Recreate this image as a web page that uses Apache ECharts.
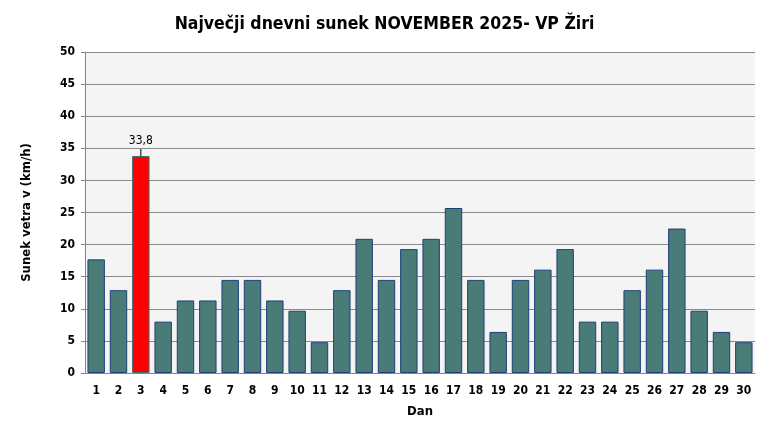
<!DOCTYPE html>
<html><head><meta charset="utf-8">
<script src="https://cdn.jsdelivr.net/npm/echarts@6/dist/echarts.min.js"></script>
<style>html,body{margin:0;padding:0;background:#fff}#c{width:769px;height:439px}</style>
</head><body><div id="c"></div>
<script>
const days = ['1','2','3','4','5','6','7','8','9','10','11','12','13','14','15','16','17','18','19','20','21','22','23','24','25','26','27','28','29','30'];
const gusts = [17.7,12.9,33.8,8.0,11.3,11.3,14.5,14.5,11.3,9.7,4.8,12.9,20.9,14.5,19.3,20.9,25.7,14.5,6.4,14.5,16.1,19.3,8.0,8.0,12.9,16.1,22.5,9.7,6.4,4.8];
const maxIndex = gusts.indexOf(Math.max(...gusts));
const titleText = 'Največji dnevni sunek NOVEMBER 2025- VP Žiri';
const yName = 'Sunek vetra v (km/h)';
const xName = 'Dan';

const font = '"DejaVu Sans Condensed", "DejaVu Sans", sans-serif';
const data = gusts.map((v, i) => i === maxIndex ? {
  value: v,
  itemStyle: {color: '#ff0000', borderColor: '#3f7070'},
  label: {show: true, position: 'top', distance: 0,
    formatter: p => '{v|' + String(p.value).replace('.', ',') + '}\n{l|}',
    rich: {
      v: {color: '#000', fontFamily: font, fontSize: 12, lineHeight: 16, align: 'center'},
      l: {width: 1, height: 7, backgroundColor: '#000', align: 'center'}
    }}
} : v);

const chart = echarts.init(document.getElementById('c'), null, {renderer: 'canvas'});
chart.setOption({
  animation: false,
  title: {text: titleText, left: 'center', top: 10,
    textStyle: {fontFamily: font, fontSize: 17.5, fontWeight: 'bold', color: '#000'}},
  grid: {left: 85, right: 14, top: 52, bottom: 66, show: true, backgroundColor: '#f4f4f4', borderWidth: 0},
  xAxis: {type: 'category', data: days, name: xName, nameLocation: 'middle', nameGap: 32,
    nameTextStyle: {fontFamily: font, fontSize: 13, fontWeight: 'bold', color: '#000'},
    axisLine: {show: true, lineStyle: {color: '#868686'}},
    axisTick: {show: false},
    axisLabel: {fontFamily: font, fontSize: 12, fontWeight: 'bold', color: '#000', margin: 12}},
  yAxis: {type: 'value', min: 0, max: 50, interval: 5, name: yName, nameLocation: 'middle', nameGap: 52,
    nameTextStyle: {fontFamily: font, fontSize: 13, fontWeight: 'bold', color: '#000'},
    axisLine: {show: true, lineStyle: {color: '#868686'}},
    axisTick: {show: true, length: 4, inside: false, lineStyle: {color: '#868686'}},
    splitLine: {lineStyle: {color: '#8a8a8a', width: 1}},
    axisLabel: {fontFamily: font, fontSize: 12, fontWeight: 'bold', color: '#000', margin: 10}},
  series: [{type: 'bar', data: data, barCategoryGap: '22%',
    itemStyle: {color: '#4a7c77', borderColor: '#1f3f7a', borderWidth: 1}}]
});
</script></body></html>
